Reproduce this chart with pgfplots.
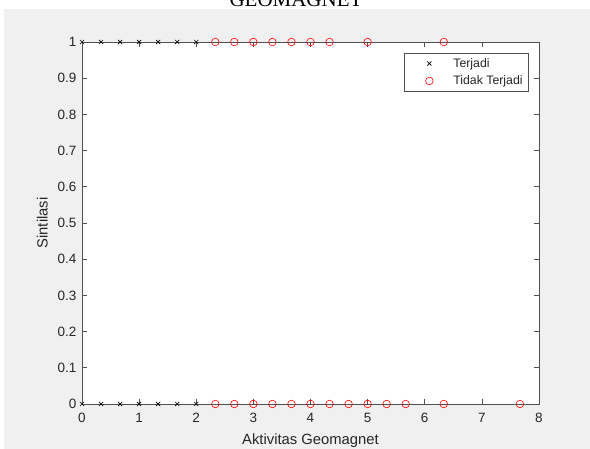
\documentclass[border=0pt]{standalone}
\usepackage{pgfplots}
\pgfplotsset{compat=1.18}
\usepackage{fontspec}
\setmainfont{Liberation Sans}
\newfontfamily\titlefont{Liberation Serif}
\definecolor{figbg}{HTML}{F0F0F0}
\definecolor{axcol}{HTML}{505050}
\definecolor{txtcol}{HTML}{262626}
\definecolor{mred}{HTML}{FF0000}
\begin{document}
\begin{tikzpicture}[x=1pt,y=1pt]
\clip (0,0) rectangle (590,449);
\fill[white] (0,0) rectangle (590,449);
\fill[figbg] (4,0) rectangle (590,440);
\fill[white] (0,440) rectangle (524,449);
\node[anchor=base, inner sep=0pt, font=\titlefont\fontsize{21}{24}\selectfont] at (296,442) {GEOMAGNET};
\begin{axis}[
  at={(82pt,45pt)}, anchor=south west,
  scale only axis, width=457pt, height=362pt,
  xmin=0, xmax=8, ymin=0, ymax=1,
  xtick={0,1,2,3,4,5,6,7,8},
  ytick={0,0.1,0.2,0.3,0.4,0.5,0.6,0.7,0.8,0.9,1},
  yticklabels={0,0.1,0.2,0.3,0.4,0.5,0.6,0.7,0.8,0.9,1},
  tick align=inside, major tick length=5pt,
  axis line style={axcol, line width=0.7pt},
  tick style={axcol, line width=0.7pt},
  axis background/.style={fill=white},
  clip=false,
  /pgf/number format/assume math mode=true,
  ticklabel style={font=\fontsize{13.5}{15}\selectfont, text=txtcol},
  xticklabel style={yshift=-6pt},
  yticklabel style={xshift=-2pt},
  xlabel={Aktivitas Geomagnet},
  ylabel={Sintilasi},
  label style={font=\fontsize{14.8}{17}\selectfont, text=txtcol},
  xlabel style={yshift=-4pt},
  ylabel style={yshift=3pt},
  legend style={at={(rel axis cs:0.978,0.9696)}, anchor=north east,
    draw=axcol, line width=0.6pt, fill=white,
    font=\fontsize{12.3}{14}\selectfont, text=txtcol,
    cells={anchor=west}, row sep=3pt, inner xsep=4pt, inner ysep=3pt},
  legend image code/.code={\path[draw=none,fill=none] (0pt,0pt) rectangle (43pt,0pt); \draw[#1] plot coordinates {(21pt,0pt)};},
]
\addplot[only marks, mark=x, mark size=2.9pt, black, line width=0.65pt]
  coordinates {(0,1)(0.3333,1)(0.6667,1)(1,1)(1.3333,1)(1.6667,1)(2,1)
               (0,0)(0.3333,0)(0.6667,0)(1,0)(1.3333,0)(1.6667,0)(2,0)};
\addlegendentry{Terjadi}
\addplot[only marks, mark=o, mark size=3.8pt, mred, line width=0.6pt]
  coordinates {(2.3333,1)(2.6667,1)(3,1)(3.3333,1)(3.6667,1)(4,1)(4.3333,1)(5,1)(6.3333,1)
               (2.3333,0)(2.6667,0)(3,0)(3.3333,0)(3.6667,0)(4,0)(4.3333,0)(4.6667,0)(5,0)(5.3333,0)(5.6667,0)(6.3333,0)(7.6667,0)};
\addlegendentry{Tidak Terjadi}
\end{axis}
\end{tikzpicture}
\end{document}
